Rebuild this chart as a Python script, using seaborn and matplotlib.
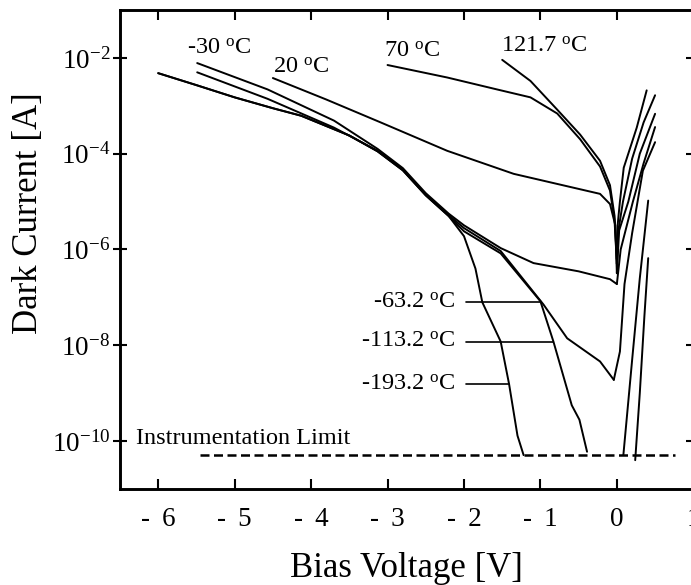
import numpy as np
import pandas as pd
import matplotlib
matplotlib.use("Agg")
import matplotlib.pyplot as plt
import seaborn as sns

# ---- measured I-V curves (bias in V, dark current in A) ----
# reverse branches
v_t1217 = [-1.5, -1.13, -0.78, -0.48, -0.22, -0.09, -0.03, 0.0]
i_t1217 = [9.1e-3, 3.3e-3, 8.3e-4, 2.5e-4, 7.1e-5, 2.2e-5, 5.0e-6, 6.3e-7]
v_t70 = [-3.0, -2.22, -1.57, -1.13, -0.78, -0.48, -0.22, -0.09, -0.03, 0.0]
i_t70 = [7.1e-3, 3.9e-3, 2.2e-3, 1.5e-3, 6.9e-4, 2.0e-4, 5.4e-5, 1.7e-5, 4.0e-6, 5.0e-7]
v_t20 = [-4.5, -3.8, -3.09, -2.22, -1.35, -0.22, -0.09, -0.02, 0.0]
i_t20 = [3.8e-3, 1.35e-3, 4.5e-4, 1.15e-4, 3.8e-5, 1.45e-5, 8.9e-6, 3.2e-6, 3.2e-7]
v_tm30 = [-5.49, -4.57, -3.70, -3.13, -2.8, -2.5, -2.2, -2.0, -1.52, -1.09, -0.5, -0.09, 0.0]
i_tm30 = [7.8e-3, 2.2e-3, 4.9e-4, 1.26e-4, 5.0e-5, 1.5e-5, 5.6e-6, 3.2e-6, 1.07e-6,
          5.2e-7, 3.5e-7, 2.4e-7, 1.9e-7]
v_tm632 = [-5.49, -4.57, -3.70, -3.13, -2.8, -2.5, -2.2, -2.0, -1.52, -0.96, -0.65, -0.22, -0.04]
i_tm632 = [5.0e-3, 1.4e-3, 3.5e-4, 1.15e-4, 4.7e-5, 1.4e-5, 5.2e-6, 2.8e-6, 9.3e-7,
           7.1e-8, 1.4e-8, 4.6e-9, 1.9e-9]
v_tm1132 = [-6.0, -5.5, -5.0, -4.5, -4.13, -3.5, -3.13, -2.8, -2.5, -2.2, -2.0, -1.52,
            -1.0, -0.83, -0.59, -0.49, -0.39]
i_tm1132 = [4.8e-3, 2.7e-3, 1.5e-3, 8.9e-4, 6.2e-4, 2.4e-4, 1.12e-4, 4.5e-5, 1.35e-5,
            5.0e-6, 2.4e-6, 8.3e-7, 8.3e-8, 1.2e-8, 5.6e-10, 2.8e-10, 6.0e-11]
v_tm1932 = [-6.0, -5.5, -5.0, -4.5, -4.13, -3.5, -3.13, -2.8, -2.5, -2.2, -2.0, -1.85,
            -1.76, -1.52, -1.41, -1.30, -1.22]
i_tm1932 = [4.8e-3, 2.7e-3, 1.5e-3, 8.9e-4, 6.2e-4, 2.4e-4, 1.12e-4, 4.5e-5, 1.35e-5,
            5.0e-6, 1.9e-6, 4.0e-7, 7.9e-8, 1.2e-8, 1.55e-9, 1.3e-10, 5.1e-11]

# forward branches
fv_t1217 = [0.0, 0.01, 0.04, 0.09, 0.26, 0.39]
fi_t1217 = [6.3e-7, 3.2e-6, 1.0e-5, 5.1e-5, 3.5e-4, 2.1e-3]
fv_t70 = [0.0, 0.02, 0.08, 0.2, 0.35, 0.5]
fi_t70 = [5.0e-7, 2.5e-6, 1.0e-5, 7.9e-5, 4.5e-4, 1.66e-3]
fv_t20 = [0.0, 0.03, 0.15, 0.3, 0.5]
fi_t20 = [3.2e-7, 2.5e-6, 1.0e-5, 1.0e-4, 6.8e-4]
fv_tm30 = [0.0, 0.05, 0.21, 0.35, 0.5]
fi_tm30 = [1.9e-7, 1.0e-6, 1.0e-5, 6.3e-5, 3.6e-4]
fv_tm632 = [-0.04, 0.04, 0.1, 0.2, 0.34, 0.5]
fi_tm632 = [1.9e-9, 7.4e-9, 1.9e-7, 2.2e-6, 4.4e-5, 1.74e-4]
fv_tm1132 = [0.085, 0.2, 0.3, 0.41]
fi_tm1132 = [5.1e-11, 5.0e-9, 2.5e-7, 1.05e-5]
fv_tm1932 = [0.24, 0.3, 0.36, 0.41]
fi_tm1932 = [4.0e-11, 1.0e-9, 4.0e-8, 6.6e-7]

# instrumentation floor
limit_v = [-5.45, 0.76]
limit_i = 5.1e-11

# axis ticks
x_ticks = [-6, -5, -4, -3, -2, -1, 0, 1]
x_ticklabels = ["-\u2009 6", "-\u2009 5", "-\u2009 4", "-\u2009 3", "-\u2009 2",
                "-\u2009 1", "0", "1"]
y_ticks = [1e-2, 1e-4, 1e-6, 1e-8, 1e-10]
y_ticklabels = [r"$\mathregular{10^{-2}}$", r"$\mathregular{10^{-4}}$",
                r"$\mathregular{10^{-6}}$", r"$\mathregular{10^{-8}}$",
                r"$\mathregular{10^{-10}}$"]

# temperature labels near the curve tops: (text, V, I)
top_labels = [("-30", -5.63, 1.6e-2), ("20", -4.5, 6.3e-3),
              ("70", -3.04, 1.4e-2), ("121.7", -1.52, 1.75e-2)]
# labels with leader lines: (text, curve, I at leader)
side_labels = [("-63.2", "tm632", 8.1e-8), ("-113.2", "tm1132", 1.2e-8),
               ("-193.2", "tm1932", 1.55e-9)]
side_text_v = -2.11
side_line_v0 = -1.97

sns.set_theme(style="ticks")
plt.rcParams["font.family"] = ["Liberation Serif", "DejaVu Serif"]
plt.rcParams["mathtext.fontset"] = "custom"
plt.rcParams["mathtext.rm"] = "Liberation Serif"

fig = plt.figure(figsize=(6.91, 5.85), dpi=100)
ax = fig.add_axes([120 / 691, 1 - 489 / 585, 573.3 / 691, 479 / 585])

curves = {
    "t1217": (v_t1217, i_t1217, fv_t1217, fi_t1217),
    "t70": (v_t70, i_t70, fv_t70, fi_t70),
    "t20": (v_t20, i_t20, fv_t20, fi_t20),
    "tm30": (v_tm30, i_tm30, fv_tm30, fi_tm30),
    "tm632": (v_tm632, i_tm632, fv_tm632, fi_tm632),
    "tm1132": (v_tm1132, i_tm1132, fv_tm1132, fi_tm1132),
    "tm1932": (v_tm1932, i_tm1932, fv_tm1932, fi_tm1932),
}
lw = 1.4
for name, (rv, ri, fv, fi) in curves.items():
    for seg_v, seg_i in ((rv, ri), (fv, fi)):
        df = pd.DataFrame({"V": seg_v, "I": seg_i})
        sns.lineplot(data=df, x="V", y="I", ax=ax, color="black", lw=lw,
                     sort=False, estimator=None)

ax.plot(limit_v, [limit_i, limit_i], color="black", lw=1.8, dashes=(3.6, 1.8))

ax.set_yscale("log")
ax.set_xlim(-6.5, 1.0)
ax.set_ylim(1e-11, 1e-1)

ax.set_xticks(x_ticks)
ax.set_xticklabels(x_ticklabels)
ax.set_yticks(y_ticks)
ax.set_yticklabels(y_ticklabels)
ax.yaxis.set_minor_locator(matplotlib.ticker.NullLocator())
ax.xaxis.set_minor_locator(matplotlib.ticker.NullLocator())

ax.tick_params(axis="x", direction="in", length=7, width=1.5, top=True, bottom=True,
               labelsize=19.5, pad=13, colors="black")
ax.tick_params(axis="y", direction="inout", length=10, width=1.5, left=True, right=True,
               labelsize=19.5, pad=2, colors="black")
for sp in ax.spines.values():
    sp.set_visible(True)
    sp.set_linewidth(2.1)
    sp.set_color("black")

ax.set_xlabel("Bias Voltage [V]", fontsize=25, color="black")
ax.set_ylabel("Dark Current [A]", fontsize=25, color="black")
ax.xaxis.set_label_coords(0.5, -0.131)
ax.yaxis.set_label_coords(-0.131, 0.575)

deg = r"$\mathregular{^{o}}$C"
for txt, v, i in top_labels:
    ax.text(v, i, f"{txt} {deg}", fontsize=17.5, ha="left", va="center", color="black")

for txt, key, i in side_labels:
    rv, ri = curves[key][0], curves[key][1]
    # bias where the reverse branch crosses the leader height
    v_end = np.interp(-np.log10(i), -np.log10(ri), rv)
    ax.plot([side_line_v0, v_end], [i, i], color="black", lw=1.2)
    ax.text(side_text_v, i, f"{txt} {deg}", fontsize=17.5, ha="right", va="center",
            color="black")

ax.text(-6.29, 1.15e-10, "Instrumentation Limit", fontsize=17.5, ha="left", va="center",
        color="black")

fig.savefig("out.png", dpi=100)
